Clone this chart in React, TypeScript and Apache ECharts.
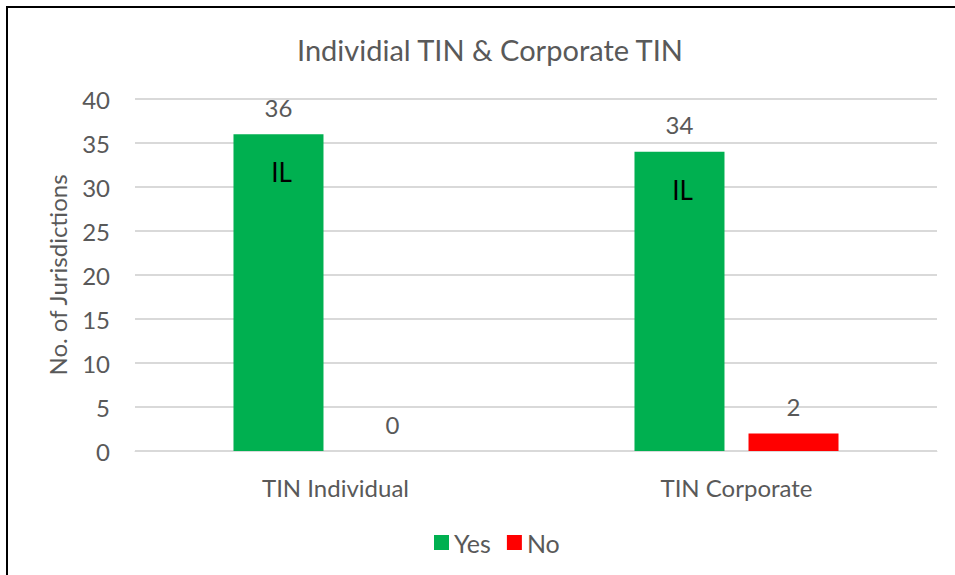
import React, { useEffect, useRef } from "react";
import * as echarts from "echarts";

const categories = ["TIN Individual", "TIN Corporate"];
const yesValues = [36, 34];
const noValues = [0, 2];
const yesInnerLabels = ["IL", "IL"];
const yTicks = [0, 5, 10, 15, 20, 25, 30, 35, 40];

const FONT = "Lato, 'Open Sans', sans-serif";
const GREY = "#595959";

export default function App() {
  const ref = useRef<HTMLDivElement>(null);
  useEffect(() => {
    if (!ref.current) return;
    const chart = echarts.init(ref.current, null, { renderer: "svg" });
    chart.setOption({
      animation: false,
      backgroundColor: "#ffffff",
      textStyle: { fontFamily: FONT },
      title: {
        text: "Individial TIN & Corporate TIN",
        left: 292,
        top: 30,
        textStyle: { fontFamily: FONT, fontSize: 29, fontWeight: "normal", color: GREY },
      },
      graphic: [
        {
          type: "rect",
          shape: { x: 7, y: 7, width: 1000, height: 1000 },
          style: { fill: "none", stroke: "#000000", lineWidth: 2 },
          silent: true,
        },
      ],
      legend: {
        data: ["Yes", "No"],
        top: 525,
        left: 429,
        icon: "rect",
        itemWidth: 15,
        itemHeight: 15,
        itemGap: 16,
        textStyle: { fontFamily: FONT, fontSize: 25, color: GREY },
      },
      grid: { left: 135, right: 18, top: 99, bottom: 124 },
      xAxis: {
        type: "category",
        data: categories,
        axisLine: { show: true, lineStyle: { color: "#D9D9D9", width: 1 } },
        axisTick: { show: false },
        axisLabel: { fontFamily: FONT, fontSize: 24, color: GREY, margin: 24 },
      },
      yAxis: {
        type: "value",
        min: yTicks[0],
        max: yTicks[yTicks.length - 1],
        interval: 5,
        name: "No. of Jurisdictions",
        nameLocation: "middle",
        nameGap: 66,
        nameTextStyle: { fontFamily: FONT, fontSize: 24, color: GREY },
        axisLine: { show: false },
        axisTick: { show: false },
        axisLabel: { fontFamily: FONT, fontSize: 24, color: GREY, margin: 25 },
        splitLine: { lineStyle: { color: "#D9D9D9", width: 2 } },
      },
      series: [
        {
          name: "Yes",
          type: "bar",
          stack: "yes",
          data: yesValues,
          barWidth: 90,
          barGap: "26.7%",
          itemStyle: { color: "#00B050" },
          label: {
            show: true,
            position: "insideTop",
            distance: 25,
            offset: [3, 0],
            formatter: (p: any) => yesInnerLabels[p.dataIndex],
            fontFamily: FONT,
            fontSize: 26,
            color: "#000000",
          },
        },
        {
          name: "YesValue",
          type: "bar",
          stack: "yes",
          data: yesValues.map(() => 0),
          barWidth: 90,
          itemStyle: { color: "#00B050" },
          label: {
            show: true,
            position: "top",
            distance: 15,
            formatter: (p: any) => String(yesValues[p.dataIndex]),
            fontFamily: FONT,
            fontSize: 24,
            color: GREY,
          },
        },
        {
          name: "No",
          type: "bar",
          data: noValues,
          barWidth: 90,
          barGap: "26.7%",
          itemStyle: { color: "#FF0000" },
          label: {
            show: true,
            position: "top",
            distance: 15,
            fontFamily: FONT,
            fontSize: 24,
            color: GREY,
          },
        },
      ],
    });
    return () => chart.dispose();
  }, []);
  return (
    <div
      ref={ref}
      style={{ position: "fixed", left: 0, top: 0, width: 955, height: 575 }}
    />
  );
}
